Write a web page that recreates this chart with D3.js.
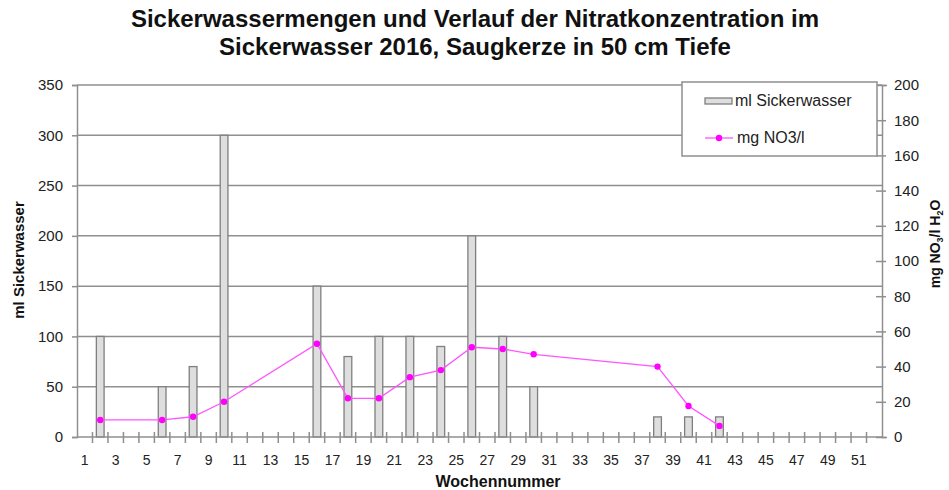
<!DOCTYPE html>
<html>
<head>
<meta charset="utf-8">
<script src="https://cdn.jsdelivr.net/npm/d3@7"></script>
<style>
  html, body { margin: 0; padding: 0; background: #fff; }
  svg { display: block; font-family: "Liberation Sans", Arial, sans-serif; }
</style>
</head>
<body>
<svg id="chart" width="949" height="490"></svg>
<script>
// ---- data ----
const weeks = [1,2,3,4,5,6,7,8,9,10,11,12,13,14,15,16,17,18,19,20,21,22,23,24,25,26,
               27,28,29,30,31,32,33,34,35,36,37,38,39,40,41,42,43,44,45,46,47,48,49,50,51,52];
const xTickLabels = [1,3,5,7,9,11,13,15,17,19,21,23,25,27,29,31,33,35,37,39,41,43,45,47,49,51];
const sampleWeeks = [2,6,8,10,16,18,20,22,24,26,28,30,38,40,42];
const sickerwasser = [100,50,70,300,150,80,100,100,90,200,100,50,20,20,20];   // ml
const nitrat = [9.7,9.7,11.5,20,53,22,22,34,38,51,50,47,40,17.6,6.3];          // mg NO3/l
const leftTicks = [0,50,100,150,200,250,300,350];
const rightTicks = [0,20,40,60,80,100,120,140,160,180,200];
const titleLines = ["Sickerwassermengen und Verlauf der Nitratkonzentration im",
                    "Sickerwasser 2016, Saugkerze in 50 cm Tiefe"];

// ---- layout ----
const svg = d3.select("#chart");
const L = 77, R = 882, T = 85, B = 437;
const gridColor = "#8f8f8f";

const x = d3.scaleBand().domain(weeks).range([L, R]).padding(0);
const yL = d3.scaleLinear().domain([0, 350]).range([B, T]);
const yR = d3.scaleLinear().domain([0, 200]).range([B, T]);

// title
svg.append("g").selectAll("text").data(titleLines).join("text")
  .attr("x", 475).attr("y", (d, i) => 27 + i * 28)
  .attr("text-anchor", "middle")
  .attr("font-size", 24).attr("font-weight", "bold").attr("fill", "#111")
  .text(d => d);

// gridlines
svg.append("g").selectAll("line").data(leftTicks.filter(d => d > 0)).join("line")
  .attr("x1", L).attr("x2", R)
  .attr("y1", d => yL(d)).attr("y2", d => yL(d))
  .attr("stroke", gridColor).attr("stroke-width", 1.5);

// bars
svg.append("g").selectAll("rect").data(sampleWeeks).join("rect")
  .attr("x", d => x(d) + x.bandwidth() * 0.25)
  .attr("width", x.bandwidth() * 0.5)
  .attr("y", (d, i) => yL(sickerwasser[i]))
  .attr("height", (d, i) => B - yL(sickerwasser[i]))
  .attr("fill", "#dedede").attr("stroke", "#7f7f7f").attr("stroke-width", 1.3);

// left axis
const gl = svg.append("g").attr("transform", `translate(${L},0)`)
  .call(d3.axisLeft(yL).tickValues(leftTicks).tickSize(5).tickPadding(9));
gl.select(".domain").attr("stroke", gridColor).attr("stroke-width", 1.5);
gl.selectAll(".tick line").attr("stroke", gridColor).attr("stroke-width", 1.5);
gl.selectAll(".tick text").attr("font-size", 15).attr("fill", "#222")
  .attr("font-family", "Liberation Sans, Arial, sans-serif");

// right axis
const gr = svg.append("g").attr("transform", `translate(${R},0)`)
  .call(d3.axisRight(yR).tickValues(rightTicks).tickSize(5).tickPadding(7));
gr.select(".domain").attr("stroke", gridColor).attr("stroke-width", 1.5);
gr.selectAll(".tick line").attr("x1", -6).attr("x2", 4).attr("stroke", gridColor).attr("stroke-width", 1.5);
gr.selectAll(".tick text").attr("font-size", 15).attr("fill", "#222")
  .attr("font-family", "Liberation Sans, Arial, sans-serif");

// bottom axis (labels at odd weeks, ticks at category boundaries)
const gb = svg.append("g").attr("transform", `translate(0,${B})`)
  .call(d3.axisBottom(x).tickValues(xTickLabels).tickSize(0).tickPadding(18));
gb.select(".domain").remove();
gb.selectAll(".tick text").attr("font-size", 14).attr("fill", "#222")
  .attr("font-family", "Liberation Sans, Arial, sans-serif");
svg.append("line").attr("x1", L).attr("x2", R).attr("y1", B).attr("y2", B)
  .attr("stroke", gridColor).attr("stroke-width", 1.5);
svg.append("g").selectAll("line").data(weeks.slice(1)).join("line")
  .attr("x1", d => x(d)).attr("x2", d => x(d))
  .attr("y1", B - 5).attr("y2", B + 6)
  .attr("stroke", gridColor).attr("stroke-width", 1.5);

// nitrate line
const lineGen = d3.line()
  .x((d, i) => x(sampleWeeks[i]) + x.bandwidth() / 2)
  .y(d => yR(d));
svg.append("path").datum(nitrat).attr("d", lineGen)
  .attr("fill", "none").attr("stroke", "#ff55ff").attr("stroke-width", 1.3);
svg.append("g").selectAll("circle").data(nitrat).join("circle")
  .attr("cx", (d, i) => x(sampleWeeks[i]) + x.bandwidth() / 2)
  .attr("cy", d => yR(d)).attr("r", 3.2).attr("fill", "#ff00ff");

// axis titles
svg.append("text").attr("transform", "translate(24,260) rotate(-90)")
  .attr("text-anchor", "middle").attr("font-size", 15).attr("font-weight", "bold").attr("fill", "#111")
  .text("ml Sickerwasser");
const rt = svg.append("text").attr("transform", "translate(940,244) rotate(-90)")
  .attr("text-anchor", "middle").attr("font-size", 14).attr("font-weight", "bold").attr("fill", "#111");
rt.append("tspan").text("mg NO");
rt.append("tspan").attr("font-size", 9).attr("dy", 3).text("3");
rt.append("tspan").attr("dy", -3).text("/l H");
rt.append("tspan").attr("font-size", 9).attr("dy", 3).text("2");
rt.append("tspan").attr("dy", -3).text("O");
svg.append("text").attr("x", 498).attr("y", 487)
  .attr("text-anchor", "middle").attr("font-size", 16).attr("font-weight", "bold").attr("fill", "#111")
  .text("Wochennummer");

// legend
const lg = svg.append("g");
lg.append("rect").attr("x", 682).attr("y", 82).attr("width", 195).attr("height", 74)
  .attr("fill", "#fff").attr("stroke", gridColor).attr("stroke-width", 1.5);
lg.append("rect").attr("x", 705).attr("y", 98).attr("width", 27).attr("height", 6)
  .attr("fill", "#dedede").attr("stroke", "#7f7f7f").attr("stroke-width", 1.3);
lg.append("text").attr("x", 735).attr("y", 106).attr("font-size", 16).attr("fill", "#222")
  .text("ml Sickerwasser");
lg.append("line").attr("x1", 705).attr("x2", 733).attr("y1", 138).attr("y2", 138)
  .attr("stroke", "#ff55ff").attr("stroke-width", 1.3);
lg.append("circle").attr("cx", 719).attr("cy", 138).attr("r", 3.2).attr("fill", "#ff00ff");
lg.append("text").attr("x", 737).attr("y", 143).attr("font-size", 16).attr("fill", "#222")
  .text("mg NO3/l");
</script>
</body>
</html>
